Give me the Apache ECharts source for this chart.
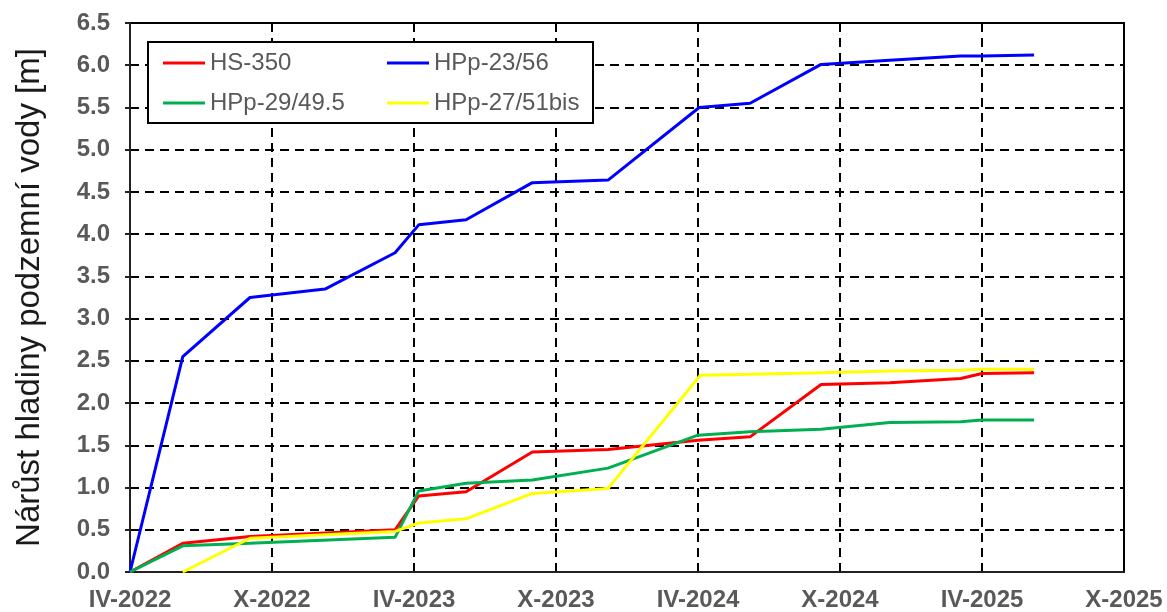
<!DOCTYPE html>
<html>
<head>
<meta charset="utf-8">
<script src="https://cdn.jsdelivr.net/npm/echarts@6/dist/echarts.min.js"></script>
<style>html,body{margin:0;padding:0;background:#fff}#c{width:1167px;height:612px}</style>
</head>
<body>
<div id="c"></div>
<script>
// x values are months since April 2022
const tickLabels = ['IV-2022','X-2022','IV-2023','X-2023','IV-2024','X-2024','IV-2025','X-2025'];
const seriesNames = ['HS-350','HPp-23/56','HPp-29/49.5','HPp-27/51bis'];

const hs350Months = [0, 2.23, 5.07, 11.2, 12.2, 14.2, 17.0, 20.2, 24.0, 26.2, 29.2, 32.1, 35.1, 36.0, 38.2];
const hs350Values = [0, 0.34, 0.42, 0.50, 0.90, 0.95, 1.42, 1.45, 1.56, 1.60, 2.22, 2.24, 2.29, 2.35, 2.36];

const hpp2356Months = [0, 2.23, 5.07, 8.24, 11.2, 12.2, 14.2, 17.0, 20.2, 24.05, 26.2, 29.2, 32.1, 35.1, 36.0, 38.2];
const hpp2356Values = [0, 2.55, 3.25, 3.35, 3.78, 4.11, 4.17, 4.61, 4.64, 5.50, 5.55, 6.01, 6.06, 6.11, 6.11, 6.12];

const hpp2949Months = [0, 2.23, 5.07, 11.2, 12.2, 14.2, 17.0, 20.2, 24.0, 26.2, 29.2, 32.1, 35.1, 36.0, 38.2];
const hpp2949Values = [0, 0.31, 0.34, 0.41, 0.96, 1.05, 1.09, 1.23, 1.62, 1.66, 1.69, 1.77, 1.78, 1.80, 1.80];

const hpp2751Months = [2.23, 5.07, 11.2, 12.2, 14.2, 17.0, 20.2, 24.1, 26.2, 29.2, 32.1, 35.1, 36.0, 38.2];
const hpp2751Values = [0, 0.40, 0.48, 0.58, 0.63, 0.93, 0.99, 2.33, 2.34, 2.36, 2.38, 2.39, 2.40, 2.40];

const colors = ['#ff0000', '#0000ff', '#00b050', '#ffff00'];

function pairs(xs, ys) { return xs.map((x, i) => [x, ys[i]]); }

const chart = echarts.init(document.getElementById('c'), null, {renderer: 'canvas'});
const font = '"Liberation Sans", Arial, sans-serif';
const dashed = {type: [9, 6], color: '#000', width: 2};

const mkSeries = (name, xs, ys, color) => ({
  name, type: 'line', data: pairs(xs, ys), symbol: 'none', smooth: false,
  lineStyle: {color, width: 3}, itemStyle: {color}, z: 3
});

const legendCommon = {
  orient: 'vertical', top: 51, padding: 0, icon: 'rect',
  itemWidth: 42, itemHeight: 3, itemGap: 16, z: 60, selectedMode: false,
  textStyle: {fontFamily: font, fontSize: 24, color: '#595959', lineHeight: 24, padding: [0, 0, 0, 0]}
};

chart.setOption({
  animation: false,
  backgroundColor: '#fff',
  grid: {left: 130, top: 23, right: 43, bottom: 39, show: true, borderColor: '#000', borderWidth: 2, containLabel: false},
  xAxis: {
    type: 'value', min: 0, max: 42, interval: 6,
    axisLine: {show: true, lineStyle: {color: '#222', width: 2}},
    axisTick: {show: false},
    splitLine: {show: true, lineStyle: dashed},
    axisLabel: {
      margin: 16, color: '#595959', fontFamily: font, fontSize: 24, fontWeight: 'bold',
      formatter: v => tickLabels[Math.round(v / 6)] || ''
    }
  },
  yAxis: {
    type: 'value', min: 0, max: 6.5, interval: 0.5,
    name: 'Nárůst hladiny podzemní vody [m]', nameLocation: 'middle', nameRotate: 90, nameGap: 84,
    nameTextStyle: {fontFamily: font, fontSize: 33, color: '#1a1a1a'},
    axisLine: {show: true, lineStyle: {color: '#222', width: 2}},
    axisTick: {show: true, inside: false, length: 5, lineStyle: {color: '#222', width: 2}},
    splitLine: {show: true, lineStyle: dashed},
    axisLabel: {
      margin: 20, color: '#595959', fontFamily: font, fontSize: 24, fontWeight: 'bold',
      formatter: v => v.toFixed(1)
    }
  },
  graphic: [{
    type: 'rect', z: 50, shape: {x: 148, y: 42, width: 445, height: 81},
    style: {fill: '#fff', stroke: '#000', lineWidth: 2}
  }],
  legend: [
    Object.assign({}, legendCommon, {data: [seriesNames[0], seriesNames[2]], left: 163}),
    Object.assign({}, legendCommon, {data: [seriesNames[1], seriesNames[3]], left: 387})
  ],
  series: [
    mkSeries(seriesNames[0], hs350Months, hs350Values, colors[0]),
    mkSeries(seriesNames[1], hpp2356Months, hpp2356Values, colors[1]),
    mkSeries(seriesNames[2], hpp2949Months, hpp2949Values, colors[2]),
    mkSeries(seriesNames[3], hpp2751Months, hpp2751Values, colors[3])
  ]
});
</script>
</body>
</html>
